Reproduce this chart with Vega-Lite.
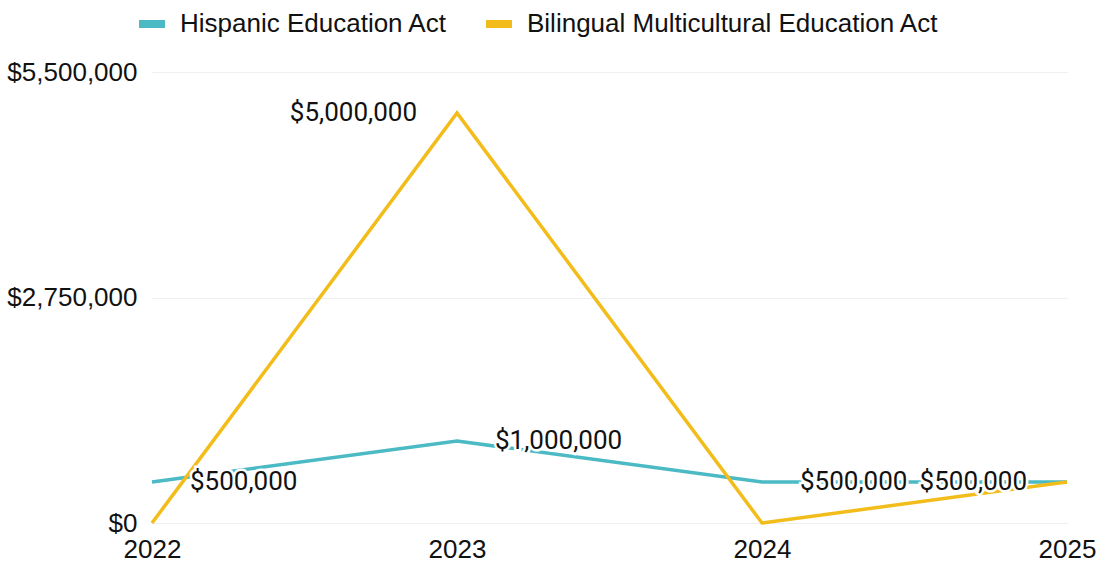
{
  "$schema": "https://vega.github.io/schema/vega-lite/v6.json",
  "autosize": "none",
  "padding": {"left": 152, "top": 72, "right": 30, "bottom": 41},
  "width": 915,
  "height": 451,
  "background": "white",
  "config": {"view": {"stroke": null}},
  "data": {"values": [
    {"year": "2022", "series": "Hispanic Education Act", "value": 500000},
    {"year": "2023", "series": "Hispanic Education Act", "value": 1000000},
    {"year": "2024", "series": "Hispanic Education Act", "value": 500000},
    {"year": "2025", "series": "Hispanic Education Act", "value": 500000},
    {"year": "2022", "series": "Bilingual Multicultural Education Act", "value": 0},
    {"year": "2023", "series": "Bilingual Multicultural Education Act", "value": 5000000},
    {"year": "2024", "series": "Bilingual Multicultural Education Act", "value": 0},
    {"year": "2025", "series": "Bilingual Multicultural Education Act", "value": 500000}
  ]},
  "encoding": {
    "x": {"field": "year", "type": "ordinal", "scale": {"type": "point", "padding": 0},
      "axis": {"title": null, "labelAngle": 0, "domain": false, "ticks": false, "labelPadding": 13,
        "labelFont": "Liberation Sans", "labelFontSize": 26, "labelColor": "#111", "grid": false}},
    "y": {"field": "value", "type": "quantitative", "scale": {"domain": [0, 5500000], "nice": false},
      "axis": {"title": null, "values": [0, 2750000, 5500000], "format": "$,.0f", "domain": false, "ticks": false,
        "labelPadding": 15, "labelFont": "Liberation Sans", "labelFontSize": 26, "labelColor": "#111",
        "grid": true, "gridColor": "#efefef", "gridWidth": 1}}
  },
  "layer": [
    {
      "mark": {"type": "line", "strokeWidth": 3.5},
      "encoding": {
        "color": {"field": "series", "type": "nominal",
          "scale": {"domain": ["Hispanic Education Act", "Bilingual Multicultural Education Act"], "range": ["#4BBAC4", "#F2BD1A"]},
          "legend": {"title": null, "orient": "none", "direction": "horizontal", "legendX": -17, "legendY": -65,
            "symbolType": "stroke", "symbolSize": 676, "symbolStrokeWidth": 8,
            "labelFont": "Liberation Sans", "labelFontSize": 26, "labelColor": "#111", "labelOffset": 11, "columnPadding": 22,
            "labelLimit": 600}}
      }
    },
    {
      "transform": [{"filter": "datum.series == 'Hispanic Education Act' && datum.value > 0 && datum.year != '2025'"}],
      "mark": {"type": "text", "align": "left", "baseline": "middle", "dx": 38, "font": "Roboto", "fontSize": 26, "stroke": "white", "strokeWidth": 5, "fill": "white"},
      "encoding": {"text": {"field": "value", "type": "quantitative", "format": "$,.0f"}}
    },
    {
      "transform": [{"filter": "datum.series == 'Hispanic Education Act' && datum.value > 0 && datum.year != '2025'"}],
      "mark": {"type": "text", "align": "left", "baseline": "middle", "dx": 38, "font": "Roboto", "fontSize": 26, "fill": "#111"},
      "encoding": {"text": {"field": "value", "type": "quantitative", "format": "$,.0f"}}
    },
    {
      "transform": [{"filter": "datum.series == 'Bilingual Multicultural Education Act' && datum.value > 0"}],
      "mark": {"type": "text", "align": "right", "baseline": "middle", "dx": -40, "font": "Roboto", "fontSize": 26, "stroke": "white", "strokeWidth": 5, "fill": "white"},
      "encoding": {"text": {"field": "value", "type": "quantitative", "format": "$,.0f"}}
    },
    {
      "transform": [{"filter": "datum.series == 'Bilingual Multicultural Education Act' && datum.value > 0"}],
      "mark": {"type": "text", "align": "right", "baseline": "middle", "dx": -40, "font": "Roboto", "fontSize": 26, "fill": "#111"},
      "encoding": {"text": {"field": "value", "type": "quantitative", "format": "$,.0f"}}
    }
  ]
}
